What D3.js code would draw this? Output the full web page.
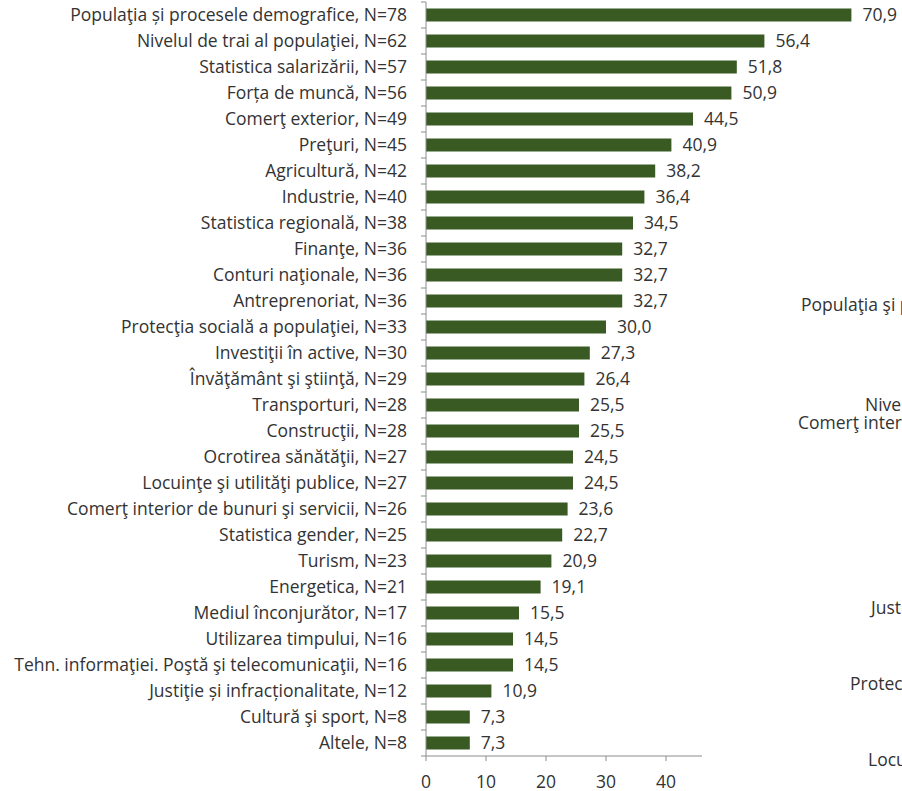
<!DOCTYPE html>
<html><head><meta charset="utf-8">
<script src="https://cdn.jsdelivr.net/npm/d3@7"></script>
<style>
html,body{margin:0;padding:0;background:#fff;overflow:hidden}
svg text{font-family:"Open Sans",sans-serif;fill:#333}
</style></head><body>
<script>
const categories = [
 "Populaţia și procesele demografice, N=78",
 "Nivelul de trai al populaţiei, N=62",
 "Statistica salarizării, N=57",
 "Forța de muncă, N=56",
 "Comerţ exterior, N=49",
 "Preţuri, N=45",
 "Agricultură, N=42",
 "Industrie, N=40",
 "Statistica regională, N=38",
 "Finanţe, N=36",
 "Conturi naţionale, N=36",
 "Antreprenoriat, N=36",
 "Protecţia socială a populaţiei, N=33",
 "Investiţii în active, N=30",
 "Învăţământ şi ştiinţă, N=29",
 "Transporturi, N=28",
 "Construcţii, N=28",
 "Ocrotirea sănătăţii, N=27",
 "Locuinţe şi utilităţi publice, N=27",
 "Comerţ interior de bunuri şi servicii, N=26",
 "Statistica gender, N=25",
 "Turism, N=23",
 "Energetica, N=21",
 "Mediul înconjurător, N=17",
 "Utilizarea timpului, N=16",
 "Tehn. informaţiei. Poştă şi telecomunicaţii, N=16",
 "Justiţie și infracționalitate, N=12",
 "Cultură şi sport, N=8",
 "Altele, N=8"
];
const values = [70.9,56.4,51.8,50.9,44.5,40.9,38.2,36.4,34.5,32.7,32.7,32.7,30.0,27.3,26.4,25.5,25.5,24.5,24.5,23.6,22.7,20.9,19.1,15.5,14.5,14.5,10.9,7.3,7.3];
const xTicks = [0,10,20,30,40];
// clipped labels of a neighbouring chart, visible at the right edge
const strayLabels = [
 "Populaţia şi procesele demografice",
 "Nivelul de trai al populaţiei",
 "Comerţ interior de bunuri şi servicii",
 "Justiţie şi infracţionalitate",
 "Protecţia socială a populaţiei",
 "Locuinţe şi utilităţi publice"
];
const strayPos = [[801,305],[865,405],[798,423],[871,608],[850,684],[868,760]];

const W=902,H=791;
const svg=d3.select("body").append("svg").attr("width",W).attr("height",H);
const x0=426, y0=2, y1=756;
const x=d3.scaleLinear().domain([0,40]).range([x0,666]);
const y=d3.scaleBand().domain(categories).range([y0,y1]).paddingInner(0.5).paddingOuter(0.25);
const fs=17.5;
const axisColor="#8c8c8c";

// bars
svg.selectAll("rect.bar").data(values).join("rect")
 .attr("x",x(0)).attr("y",(d,i)=>y(categories[i]))
 .attr("width",d=>x(d)-x(0)).attr("height",y.bandwidth())
 .attr("fill","#3a5a24");

// value labels
svg.selectAll("text.val").data(values).join("text")
 .attr("x",d=>x(d)+11).attr("y",(d,i)=>y(categories[i])+y.bandwidth()/2)
 .attr("dy","0.35em").style("font-size",fs+"px")
 .text(d=>d.toFixed(1).replace(".",","));

// category labels
svg.selectAll("text.cat").data(categories).join("text")
 .attr("x",407).attr("y",d=>y(d)+y.bandwidth()/2)
 .attr("dy","0.35em").attr("text-anchor","end").style("font-size",fs+"px")
 .text(d=>d);

// vertical axis
const step=(y1-y0)/categories.length;
svg.append("line").attr("x1",x0).attr("x2",x0).attr("y1",y0).attr("y2",y1)
 .attr("stroke",axisColor);
svg.selectAll("line.ytick").data(d3.range(categories.length+1)).join("line")
 .attr("x1",x0-5).attr("x2",x0).attr("y1",i=>y0+i*step).attr("y2",i=>y0+i*step)
 .attr("stroke",axisColor);

// horizontal axis
svg.append("line").attr("x1",x0).attr("x2",702).attr("y1",y1).attr("y2",y1).attr("stroke",axisColor);
svg.selectAll("line.xtick").data(xTicks).join("line")
 .attr("x1",d=>x(d)).attr("x2",d=>x(d)).attr("y1",y1).attr("y2",y1+5).attr("stroke",axisColor);
svg.selectAll("text.xt").data(xTicks).join("text")
 .attr("x",d=>x(d)).attr("y",782).attr("dy","0.35em").attr("text-anchor","middle")
 .style("font-size",fs+"px").text(d=>d);

// stray labels
svg.selectAll("text.stray").data(strayLabels).join("text")
 .attr("x",(d,i)=>strayPos[i][0]).attr("y",(d,i)=>strayPos[i][1]).attr("dy","0.35em")
 .style("font-size",fs+"px").text(d=>d);
</script>
</body></html>
